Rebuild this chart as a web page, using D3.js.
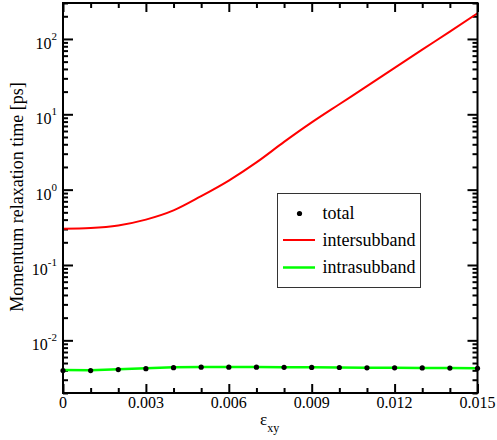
<!DOCTYPE html>
<html>
<head>
<meta charset="utf-8">
<script src="https://cdn.jsdelivr.net/npm/d3@7"></script>
<style>
  body { margin: 0; background: #fff; }
</style>
</head>
<body>
<svg id="chart" width="497" height="440" font-family="Liberation Serif"></svg>
<script>
// strain values
const strain = [0, 0.001, 0.002, 0.003, 0.004, 0.005, 0.006, 0.007, 0.008,
                0.009, 0.010, 0.011, 0.012, 0.013, 0.014, 0.015];
// relaxation times [ps]
const inter = [0.303, 0.31, 0.335, 0.40, 0.53, 0.82, 1.32, 2.3, 4.3,
               7.8, 13.6, 23.6, 41.3, 72, 125, 219];
const intra = [0.00403, 0.00402, 0.00414, 0.00426, 0.00438, 0.00442, 0.00442, 0.00442,
               0.00438, 0.00438, 0.00436, 0.00432, 0.00432, 0.00430, 0.00428, 0.00425];
const total = [0.00398, 0.00397, 0.00409, 0.00421, 0.00434, 0.00440, 0.00440, 0.00441,
               0.00438, 0.00437, 0.00436, 0.00432, 0.00432, 0.00430, 0.00428, 0.00425];
const xTicks = [0, 0.003, 0.006, 0.009, 0.012, 0.015];
const xTickLabels = ["0", "0.003", "0.006", "0.009", "0.012", "0.015"];
const yTicks = [0.01, 0.1, 1, 10, 100];
const yTickExp = ["-2", "-1", "0", "1", "2"];
const legendNames = ["total", "intersubband", "intrasubband"];

const svg = d3.select("#chart");
const L = 63, R = 477.5, T = 3, B = 393;

const x = d3.scaleLinear().domain([0, 0.015]).range([L, R]);
const y = d3.scaleLog().domain([0.002, 300]).range([B, T]);

// minor ticks
const xMinor = d3.range(0, 16).map(i => i / 1000).filter(v => !xTicks.some(t => Math.abs(t - v) < 1e-9));
const yMinor = [];
[0.001, 0.01, 0.1, 1, 10, 100].forEach(d => {
    for (let k = 2; k <= 9; k++) {
        const v = d * k;
        if (v >= 0.002 && v <= 300) yMinor.push(v);
    }
});

// 刻度线 (ticks inward on all four sides)
function tickGroup(axis, tx, ty) {
    const g = svg.append("g").attr("transform", `translate(${tx},${ty})`).call(axis);
    g.select(".domain").remove();
    g.selectAll("text").remove();
    g.attr("font-family", null);
    g.selectAll("line").attr("stroke", "#000").attr("stroke-width", 2);
    return g;
}
tickGroup(d3.axisBottom(x).tickValues(xTicks).tickSize(-9), 0, B);
tickGroup(d3.axisBottom(x).tickValues(xMinor).tickSize(-5), 0, B);
tickGroup(d3.axisTop(x).tickValues(xTicks).tickSize(-9), 0, T);
tickGroup(d3.axisTop(x).tickValues(xMinor).tickSize(-5), 0, T);
tickGroup(d3.axisLeft(y).tickValues(yTicks).tickSize(-10), L, 0);
tickGroup(d3.axisLeft(y).tickValues(yMinor).tickSize(-5), L, 0);
tickGroup(d3.axisRight(y).tickValues(yTicks).tickSize(-10), R, 0);
tickGroup(d3.axisRight(y).tickValues(yMinor).tickSize(-5), R, 0);

// x tick labels
svg.append("g").selectAll("text")
    .data(xTicks)
    .enter().append("text")
    .attr("x", d => x(d))
    .attr("y", B + 15)
    .attr("text-anchor", "middle")
    .attr("font-size", 16)
    .text((d, i) => xTickLabels[i]);

// y tick labels 10^n
const yl = svg.append("g").selectAll("text")
    .data(yTicks)
    .enter().append("text")
    .attr("x", 57)
    .attr("y", d => y(d) + 10)
    .attr("text-anchor", "end")
    .attr("font-size", 16);
yl.append("tspan").text("10");
yl.append("tspan").attr("dy", -9).attr("font-size", 11).text((d, i) => yTickExp[i]);

// curves
const line = d3.line().x((d, i) => x(strain[i])).y(d => y(d));
const smooth = d3.line().curve(d3.curveMonotoneX).x((d, i) => x(strain[i])).y(d => y(d));
svg.append("clipPath").attr("id", "clip")
    .append("rect").attr("x", L).attr("y", T).attr("width", R - L).attr("height", B - T);

svg.append("path").datum(inter)
    .attr("d", smooth).attr("fill", "none")
    .attr("stroke", "#ff0000").attr("stroke-width", 2)
    .attr("clip-path", "url(#clip)");

svg.append("path").datum(intra)
    .attr("d", line).attr("fill", "none")
    .attr("stroke", "#00ff00").attr("stroke-width", 2.5);

svg.append("g").selectAll("circle")
    .data(total)
    .enter().append("circle")
    .attr("cx", (d, i) => x(strain[i]))
    .attr("cy", d => y(d))
    .attr("r", 2.6)
    .attr("fill", "#000");

// frame
svg.append("rect")
    .attr("x", L).attr("y", T)
    .attr("width", R - L).attr("height", B - T)
    .attr("fill", "none").attr("stroke", "#000").attr("stroke-width", 2);

// axis titles
svg.append("text")
    .attr("transform", "translate(23,197) rotate(-90)")
    .attr("text-anchor", "middle")
    .attr("font-size", 18)
    .text("Momentum relaxation time [ps]");

const xt = svg.append("text")
    .attr("x", 260).attr("y", 425)
    .attr("font-size", 17);
xt.append("tspan").text("ε");
xt.append("tspan").attr("dy", 7).attr("font-size", 12).text("xy");

// legend
const lg = svg.append("g");
lg.append("rect")
    .attr("x", 277.5).attr("y", 193.5)
    .attr("width", 143).attr("height", 94)
    .attr("fill", "#fff").attr("stroke", "#333").attr("stroke-width", 1);
lg.append("circle").attr("cx", 299.5).attr("cy", 213.5).attr("r", 2.6).attr("fill", "#000");
lg.append("line").attr("x1", 283).attr("x2", 315).attr("y1", 240).attr("y2", 240)
    .attr("stroke", "#ff0000").attr("stroke-width", 2);
lg.append("line").attr("x1", 283).attr("x2", 315).attr("y1", 267.5).attr("y2", 267.5)
    .attr("stroke", "#00ff00").attr("stroke-width", 2.5);
lg.selectAll("text.lab")
    .data(legendNames)
    .enter().append("text")
    .attr("class", "lab")
    .attr("x", 322.5)
    .attr("y", (d, i) => 219 + i * 27)
    .attr("font-size", 18)
    .text(d => d);
</script>
</body>
</html>
